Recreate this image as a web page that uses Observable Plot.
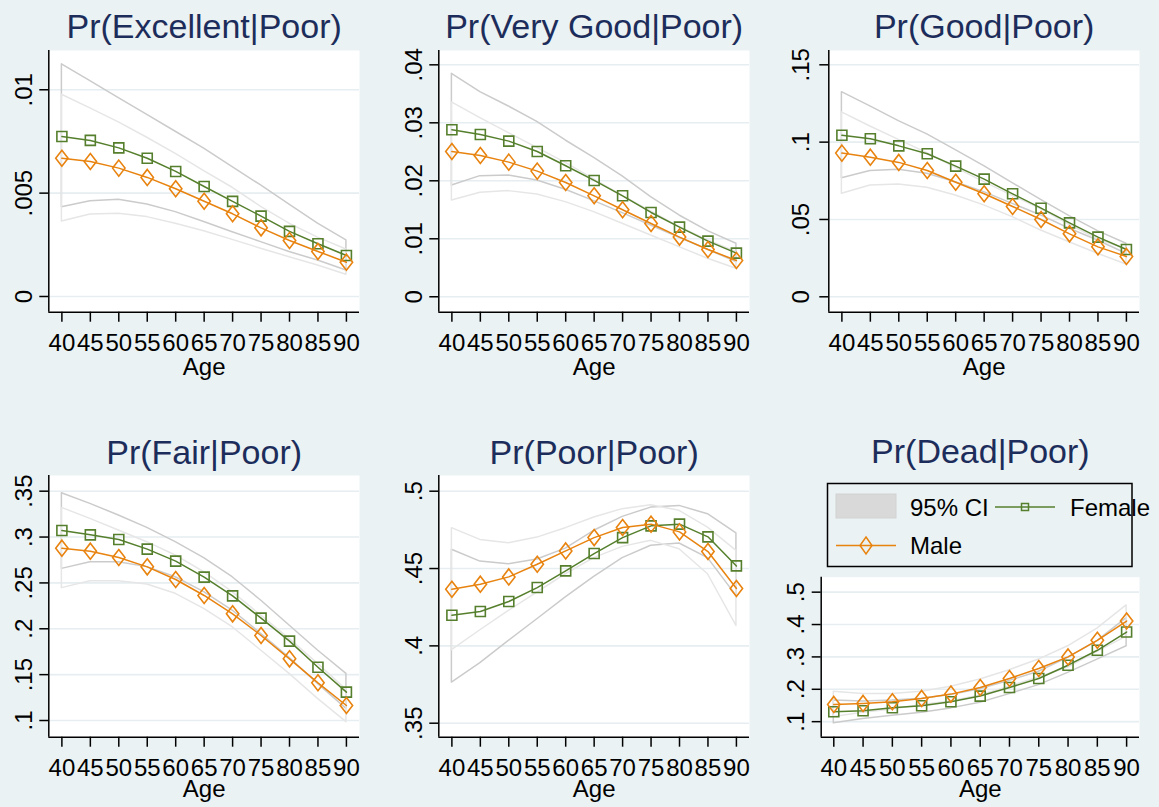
<!DOCTYPE html>
<html><head><meta charset="utf-8">
<script src="https://cdn.jsdelivr.net/npm/d3@7"></script>
<script src="https://cdn.jsdelivr.net/npm/@observablehq/plot@0.6"></script>
<style>
body{margin:0;background:#eaf2f3;}
#chart{position:relative;width:1159px;height:807px;background:#eaf2f3;overflow:hidden;font-family:"Liberation Sans",Arial,sans-serif;}
#chart svg{position:absolute;}
</style></head>
<body><div id="chart"></div>
<script>
// ---- data ----
const ages = [40,45,50,55,60,65,70,75,80,85,90];

const excellentFemale   = [.00774,.00755,.00719,.00669,.00605,.00532,.0046,.00389,.00315,.00255,.00198];
const excellentMale     = [.00669,.00653,.00621,.00576,.00521,.00461,.004,.00332,.00271,.00218,.00166];
const excellentFemaleLo = [.00432,.00461,.00468,.00445,.00408,.0036,.00311,.00263,.00215,.00174,.00126];
const excellentFemaleHi = [.01123,.01042,.0096,.00879,.00797,.00715,.00626,.00537,.00445,.00352,.00271];
const excellentMaleLo   = [.00363,.00397,.004,.00384,.00352,.00316,.00274,.00231,.0019,.0015,.00105];
const excellentMaleHi   = [.00976,.0091,.00842,.00768,.0069,.00606,.00526,.00434,.00352,.00285,.00227];

const veryGoodFemale   = [.0288,.02799,.02684,.02506,.02259,.02006,.01741,.01454,.01201,.0096,.00753];
const veryGoodMale     = [.02506,.02437,.02322,.02167,.01971,.01741,.015,.01264,.01029,.00816,.00626];
const veryGoodFemaleLo = [.0192,.0208,.02092,.02006,.01845,.01649,.01443,.0123,.01017,.0081,.00598];
const veryGoodFemaleHi = [.03845,.03529,.03282,.03017,.02695,.02397,.02075,.01718,.01402,.01132,.00914];
const veryGoodMaleLo   = [.01661,.01793,.01822,.01764,.01632,.0146,.01259,.01057,.00856,.00655,.00483];
const veryGoodMaleHi   = [.03351,.0308,.02822,.02569,.0231,.02023,.01741,.01471,.01201,.00977,.0077];

const goodFemale   = [.1045,.1022,.0976,.0925,.0845,.0761,.0666,.0573,.0478,.0386,.0306];
const goodMale     = [.0929,.0903,.0869,.0817,.0741,.0666,.0584,.05,.0407,.0323,.0261];
const goodFemaleLo = [.0767,.0813,.0821,.0795,.0741,.0677,.0601,.0526,.044,.0364,.0278];
const goodFemaleHi = [.1323,.1231,.1136,.105,.0948,.0845,.0735,.0627,.0522,.0425,.0343];
const goodMaleLo   = [.0666,.072,.0726,.0705,.0655,.0591,.0515,.0429,.0353,.0278,.0209];
const goodMaleHi   = [.1192,.1101,.1015,.0929,.0834,.0741,.0653,.0567,.0466,.0371,.0308];

const fairFemale   = [.3071,.3024,.2973,.2868,.2737,.2563,.2359,.2116,.1865,.1581,.1309];
const fairMale     = [.2879,.2846,.2777,.2675,.2537,.2363,.2163,.1927,.1672,.1411,.1164];
const fairFemaleLo = [.2653,.2726,.2726,.2672,.2562,.2399,.2199,.1945,.1683,.14,.1127];
const fairFemaleHi = [.3478,.3362,.3235,.31,.2944,.277,.2562,.2308,.2036,.1763,.1509];
const fairMaleLo   = [.2443,.2519,.2519,.2483,.2381,.2217,.2017,.1763,.1509,.1236,.0982];
const fairMaleHi   = [.3318,.3198,.3071,.2944,.2799,.2617,.2399,.2145,.189,.1618,.1334];

const poorFemale   = [.4198,.4222,.4287,.4377,.4485,.4597,.47,.4776,.4787,.4705,.4517];
const poorMale     = [.4366,.4399,.4446,.4528,.4614,.47,.4765,.4787,.4737,.461,.4371];
const poorFemaleLo = [.3763,.3888,.4032,.4172,.4313,.4446,.4567,.4647,.4662,.4567,.4323];
const poorFemaleHi = [.4621,.4545,.4528,.4558,.4629,.4744,.4834,.4894,.4905,.4851,.4728];
const poorMaleLo   = [.3972,.4101,.4226,.4345,.4463,.4567,.464,.4679,.4625,.4463,.4129];
const poorMaleHi   = [.4761,.4685,.4664,.47,.4761,.483,.4884,.4909,.4873,.4765,.4614];

const deadFemale   = [.1308,.1338,.1431,.1492,.1615,.179,.2056,.2333,.2744,.3205,.3769];
const deadMale     = [.1533,.1564,.1615,.1718,.1851,.2056,.2333,.2641,.3,.3513,.4108];
const deadFemaleLo = [.0949,.1082,.1185,.1277,.141,.1585,.1851,.2128,.2508,.2918,.3328];
const deadFemaleHi = [.165,.162,.165,.171,.182,.2,.226,.254,.297,.349,.42];
const deadMaleLo   = [.1144,.1277,.1379,.1513,.1626,.181,.2077,.2364,.2672,.3154,.3626];
const deadMaleHi   = [.1923,.1851,.1851,.1923,.2077,.2303,.259,.2918,.3328,.3872,.459];

const excellentTicks = [0,.005,.01];
const veryGoodTicks  = [0,.01,.02,.03,.04];
const goodTicks      = [0,.05,.1,.15];
const fairTicks      = [.1,.15,.2,.25,.3,.35];
const poorTicks      = [.35,.4,.45,.5];
const deadTicks      = [.1,.2,.3,.4,.5];

const titles = ["Pr(Excellent|Poor)","Pr(Very Good|Poor)","Pr(Good|Poor)","Pr(Fair|Poor)","Pr(Poor|Poor)","Pr(Dead|Poor)"];
const legendLabels = ["95% CI","Female","Male"];
const xLabel = "Age";

// ---- style ----
const GREEN = "#557f2c", ORANGE = "#e8830f", NAVY = "#1d2d5b";
const CI_F = "#cbcbcb", CI_M = "#e6e6e6", GRID = "#e6eef1";
const FONT = '"Liberation Sans", Arial, sans-serif';

const squareSym = {draw(ctx){ const s = 5; ctx.moveTo(-s,-s); ctx.lineTo(s,-s); ctx.lineTo(s,s); ctx.lineTo(-s,s); ctx.closePath(); }};
const diamondSym = {draw(ctx){ const w = 6.2, h = 8; ctx.moveTo(0,-h); ctx.lineTo(w,0); ctx.lineTo(0,h); ctx.lineTo(-w,0); ctx.closePath(); }};
const fmt = d => d === 0 ? "0" : String(d).replace(/^0\./, ".");

const panels = [
  {title: titles[0], f: excellentFemale, m: excellentMale, fLo: excellentFemaleLo, fHi: excellentFemaleHi, mLo: excellentMaleLo, mHi: excellentMaleHi, ticks: excellentTicks,
   left: 0, top: 0, width: 385, height: 385, ml: 48.3, mr: 26, mt: 50, mb: 73.3, xd: [37.7, 92.3], yd: [-0.00076, 0.0119], tdy: -13, ady: 62.5, ypad: 7.6},
  {title: titles[1], f: veryGoodFemale, m: veryGoodMale, fLo: veryGoodFemaleLo, fHi: veryGoodFemaleHi, mLo: veryGoodMaleLo, mHi: veryGoodMaleHi, ticks: veryGoodTicks,
   left: 390, top: 0, width: 385, height: 385, ml: 48.3, mr: 26, mt: 50, mb: 73.3, xd: [37.7, 92.3], yd: [-0.00266, 0.04247], tdy: -13, ady: 62.5, ypad: 7.6},
  {title: titles[2], f: goodFemale, m: goodMale, fLo: goodFemaleLo, fHi: goodFemaleHi, mLo: goodMaleLo, mHi: goodMaleHi, ticks: goodTicks,
   left: 780, top: 0, width: 379, height: 385, ml: 48.3, mr: 20, mt: 50, mb: 73.3, xd: [37.7, 92.3], yd: [-0.00996, 0.15925], tdy: -13, ady: 62.5, ypad: 11},
  {title: titles[3], f: fairFemale, m: fairMale, fLo: fairFemaleLo, fHi: fairFemaleHi, mLo: fairMaleLo, mHi: fairMaleHi, ticks: fairTicks,
   left: 0, top: 400, width: 385, height: 407, ml: 48.3, mr: 26, mt: 75, mb: 70.3, xd: [37.7, 92.3], yd: [0.0818, 0.3671], tdy: -12, ady: 60, ypad: 7.6},
  {title: titles[4], f: poorFemale, m: poorMale, fLo: poorFemaleLo, fHi: poorFemaleHi, mLo: poorMaleLo, mHi: poorMaleHi, ticks: poorTicks,
   left: 390, top: 400, width: 385, height: 407, ml: 48.3, mr: 26, mt: 75, mb: 70.3, xd: [37.7, 92.3], yd: [0.34095, 0.51015], tdy: -12, ady: 60, ypad: 7.6},
  {title: titles[5], f: deadFemale, m: deadMale, fLo: deadFemaleLo, fHi: deadFemaleHi, mLo: deadMaleLo, mHi: deadMaleHi, ticks: deadTicks,
   left: 780, top: 400, width: 379, height: 407, ml: 40.7, mr: 20, mt: 176.7, mb: 70.3, xd: [37.85, 92.2], yd: [0.052, 0.5462], tdy: -114, ady: 60, ypad: 8.4}
];

const chart = document.getElementById("chart");

for (const p of panels) {
  const rows = ages.map((a, i) => ({age: a, f: p.f[i], m: p.m[i], fLo: p.fLo[i], fHi: p.fHi[i], mLo: p.mLo[i], mHi: p.mHi[i]}));
  const svg = Plot.plot({
    width: p.width, height: p.height,
    marginLeft: p.ml, marginRight: p.mr, marginTop: p.mt, marginBottom: p.mb,
    style: {background: "transparent", overflow: "visible", fontFamily: FONT, fontSize: "24px", color: "black"},
    x: {domain: p.xd, axis: null},
    y: {domain: p.yd, axis: null},
    marks: [
      Plot.frame({fill: "white", stroke: "none"}),
      Plot.ruleY(p.ticks, {stroke: GRID, strokeWidth: 1.6}),
      Plot.areaY(rows, {x: "age", y1: "fLo", y2: "fHi", fill: "none", stroke: CI_F, strokeWidth: 1.5}),
      Plot.areaY(rows, {x: "age", y1: "mLo", y2: "mHi", fill: "none", stroke: CI_M, strokeWidth: 1.5}),
      Plot.line(rows, {x: "age", y: "f", stroke: GREEN, strokeWidth: 1.5}),
      Plot.dot(rows, {x: "age", y: "f", symbol: squareSym, stroke: GREEN, strokeWidth: 1.6, fill: "none"}),
      Plot.line(rows, {x: "age", y: "m", stroke: ORANGE, strokeWidth: 1.5}),
      Plot.dot(rows, {x: "age", y: "m", symbol: diamondSym, stroke: ORANGE, strokeWidth: 1.6, fill: "none"}),
      Plot.axisX({ticks: ages, tickSize: 10, tickPadding: 11.5, tickFormat: d => String(d), label: null, strokeWidth: 1.5, fontSize: 24}),
      Plot.axisY({ticks: p.ticks, tickSize: 9, tickPadding: p.ypad, tickRotate: -90, textAnchor: "middle", lineAnchor: "bottom", tickFormat: fmt, label: null, strokeWidth: 1.5, fontSize: 24}),
      Plot.ruleX([p.xd[0]], {stroke: "black", strokeWidth: 1.5}),
      Plot.ruleY([p.yd[0]], {stroke: "black", strokeWidth: 1.5}),
      Plot.text([p.title], {frameAnchor: "top", dy: p.tdy, lineAnchor: "bottom", fontSize: 34, fill: NAVY}),
      Plot.text([xLabel], {frameAnchor: "bottom", dy: p.ady, lineAnchor: "bottom", fontSize: 24, fill: "black"})
    ]
  });
  svg.style.left = p.left + "px";
  svg.style.top = p.top + "px";
  chart.appendChild(svg);
}

// ---- legend ----
const lg = d3.select(chart).append("svg")
  .attr("width", 1159).attr("height", 807)
  .style("left", "0px").style("top", "0px").style("pointer-events", "none")
  .style("font-family", FONT).style("font-size", "24px");
lg.append("rect").attr("x", 827.5).attr("y", 483.5).attr("width", 304.5).attr("height", 83)
  .attr("fill", "none").attr("stroke", "black").attr("stroke-width", 1.5);
lg.append("rect").attr("x", 836).attr("y", 494).attr("width", 60).attr("height", 24)
  .attr("fill", "#d9d9d9").attr("stroke", "#d2d2d2");
lg.append("text").attr("x", 910).attr("y", 515.5).text(legendLabels[0]);
lg.append("line").attr("x1", 995).attr("x2", 1055).attr("y1", 507).attr("y2", 507).attr("stroke", GREEN).attr("stroke-width", 1.5);
lg.append("rect").attr("x", 1021.5).attr("y", 503.5).attr("width", 7).attr("height", 7).attr("fill", "none").attr("stroke", GREEN).attr("stroke-width", 1.5);
lg.append("text").attr("x", 1070).attr("y", 515.5).text(legendLabels[1]);
lg.append("line").attr("x1", 836).attr("x2", 896).attr("y1", 545.5).attr("y2", 545.5).attr("stroke", ORANGE).attr("stroke-width", 1.5);
lg.append("path").attr("d", "M866,537 L872,545.5 L866,554 L860,545.5 Z").attr("fill", "none").attr("stroke", ORANGE).attr("stroke-width", 1.5);
lg.append("text").attr("x", 910).attr("y", 554).text(legendLabels[2]);
</script>
</body></html>
